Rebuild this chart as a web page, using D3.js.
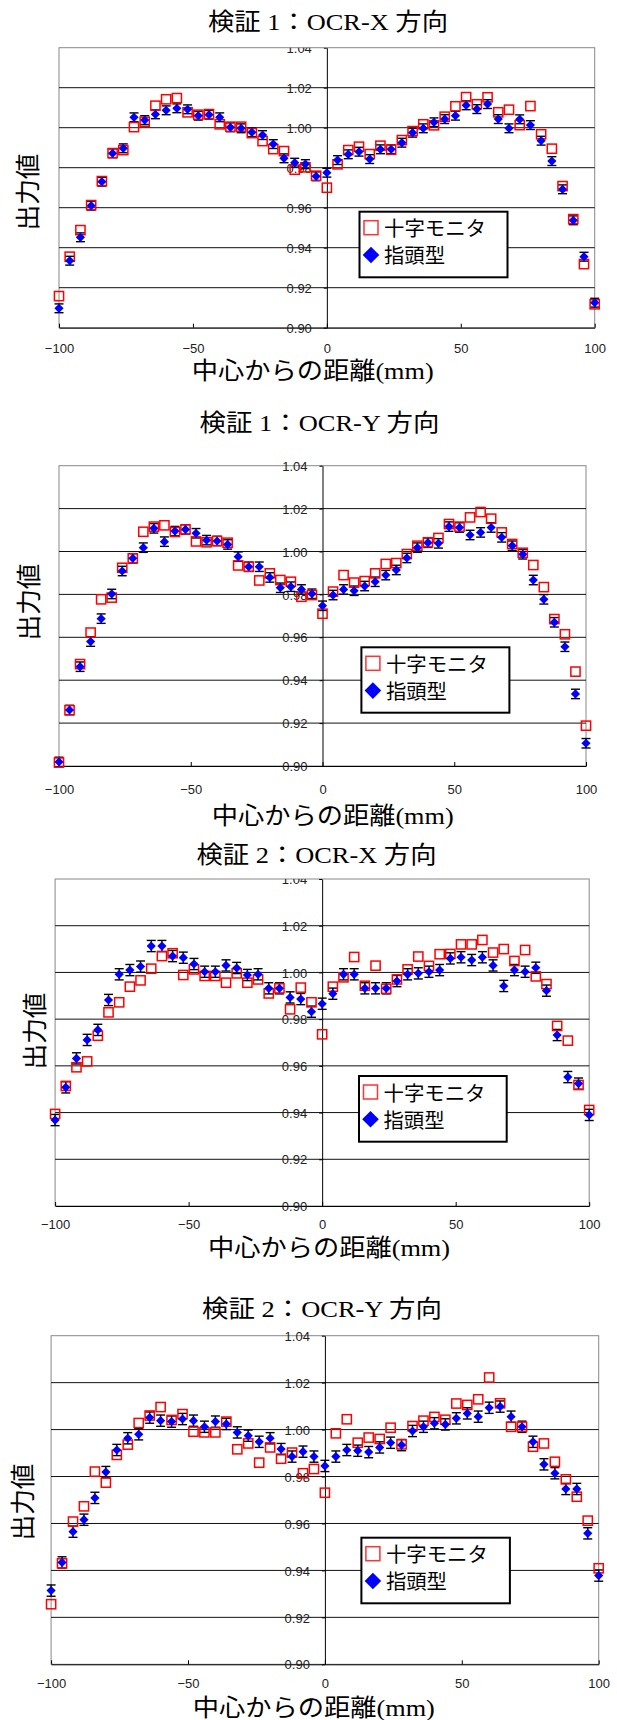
<!DOCTYPE html>
<html>
<head>
<meta charset="utf-8">
<script src="https://cdn.jsdelivr.net/npm/d3@7"></script>
<style>
  html, body { margin: 0; padding: 0; background: #fff; }
  svg { display: block; }
  .serif { font-family: "Liberation Serif", "Noto Sans CJK JP", serif; fill: #000; }
  .gothic { font-family: "Noto Sans CJK JP", "Liberation Sans", sans-serif; fill: #000; }
  .tick text { font-family: "Liberation Sans", Arial, sans-serif; font-size: 13px; fill: #222; }
</style>
</head>
<body>
<svg id="chart" width="617" height="1720"></svg>
<script>
// distance from centre (mm)
const distances = [-100, -96, -92, -88, -84, -80, -76, -72, -68, -64, -60, -56, -52, -48, -44, -40, -36, -32, -28, -24, -20, -16, -12, -8, -4,
  0, 4, 8, 12, 16, 20, 24, 28, 32, 36, 40, 44, 48, 52, 56, 60, 64, 68, 72, 76, 80, 84, 88, 92, 96, 100];

const titles = ["検証 1：OCR-X 方向", "検証 1：OCR-Y 方向", "検証 2：OCR-X 方向", "検証 2：OCR-Y 方向"];
const seriesNames = ["十字モニタ", "指頭型"];
const xLabel = "中心からの距離(mm)";
const yLabel = "出力値";
const xTicks = [-100, -50, 0, 50, 100];
const yTicks = [0.90, 0.92, 0.94, 0.96, 0.98, 1.00, 1.02, 1.04];

// 検証1 OCR-X
const ocrX1Cross = [0.9158, 0.9355, 0.9488, 0.9613, 0.9733, 0.9873, 0.9888, 1.0003, 1.0030, 1.0110, 1.0142, 1.0148, 1.0077, 1.0065, 1.0068, 1.0017, 1.0005, 1.0005, 0.9973, 0.9933, 0.9893, 0.9883, 0.9790, 0.9802, 0.9760,
  0.9700, 0.9817, 0.9888, 0.9905, 0.9868, 0.9910, 0.9890, 0.9938, 0.9983, 1.0017, 1.0012, 1.0055, 1.0107, 1.0153, 1.0117, 1.0152, 1.0077, 1.0090, 1.0013, 1.0108, 0.9967, 0.9895, 0.9708, 0.9543, 0.9318, 0.9117];
const ocrX1Finger = [0.9097, 0.9335, 0.9452, 0.9610, 0.9730, 0.9872, 0.9897, 1.0052, 1.0038, 1.0067, 1.0087, 1.0097, 1.0092, 1.0060, 1.0065, 1.0052, 1.0002, 0.9997, 0.9977, 0.9963, 0.9918, 0.9847, 0.9825, 0.9818, 0.9757,
  0.9775, 0.9838, 0.9867, 0.9880, 0.9843, 0.9892, 0.9892, 0.9925, 0.9975, 0.9997, 1.0027, 1.0043, 1.0060, 1.0112, 1.0093, 1.0118, 1.0043, 0.9997, 1.0042, 1.0013, 0.9935, 0.9833, 0.9692, 0.9537, 0.9355, 0.9125];

// 検証1 OCR-Y
const ocrY1Cross = [0.9016, 0.9260, 0.9475, 0.9622, 0.9777, 0.9785, 0.9924, 0.9968, 1.0092, 1.0116, 1.0122, 1.0091, 1.0103, 1.0047, 1.0043, 1.0049, 1.0041, 0.9935, 0.9929, 0.9865, 0.9898, 0.9867, 0.9859, 0.9789, 0.9797,
  0.9710, 0.9813, 0.9890, 0.9855, 0.9862, 0.9898, 0.9942, 0.9946, 0.9988, 1.0027, 1.0043, 1.0063, 1.0128, 1.0116, 1.0159, 1.0184, 1.0153, 1.0089, 1.0035, 0.9994, 0.9937, 0.9834, 0.9685, 0.9614, 0.9440, 0.9188];
const ocrY1Finger = [0.9019, 0.9261, 0.9463, 0.9580, 0.9687, 0.9802, 0.9909, 0.9968, 1.0018, 1.0108, 1.0046, 1.0095, 1.0103, 1.0085, 1.0053, 1.0049, 1.0033, 0.9976, 0.9929, 0.9929, 0.9879, 0.9831, 0.9836, 0.9823, 0.9803,
  0.9747, 0.9797, 0.9823, 0.9817, 0.9839, 0.9859, 0.9890, 0.9914, 0.9970, 1.0018, 1.0041, 1.0038, 1.0116, 1.0112, 1.0077, 1.0089, 1.0112, 1.0066, 1.0027, 0.9987, 0.9867, 0.9777, 0.9670, 0.9556, 0.9336, 0.9106];

// 検証2 OCR-X
const ocrX2Cross = [0.9394, 0.9514, 0.9594, 0.9619, 0.9729, 0.9829, 0.9872, 0.9939, 0.9966, 1.0016, 1.0070, 1.0082, 0.9989, 1.0013, 0.9985, 0.9985, 0.9956, 0.9996, 0.9956, 0.9970, 0.9910, 0.9932, 0.9842, 0.9935, 0.9872,
  0.9735, 0.9939, 0.9979, 1.0066, 0.9943, 1.0029, 0.9930, 0.9970, 1.0013, 1.0068, 1.0028, 1.0078, 1.0079, 1.0120, 1.0120, 1.0139, 1.0085, 1.0100, 1.0049, 1.0096, 0.9983, 0.9950, 0.9771, 0.9708, 0.9518, 0.9411];
const ocrX2Finger = [0.9368, 0.9508, 0.9632, 0.9711, 0.9754, 0.9882, 0.9992, 1.0010, 1.0025, 1.0113, 1.0113, 1.0070, 1.0063, 1.0036, 1.0003, 1.0003, 1.0030, 1.0019, 0.9989, 0.9992, 0.9932, 0.9932, 0.9893, 0.9886, 0.9832,
  0.9866, 0.9909, 0.9992, 0.9992, 0.9932, 0.9932, 0.9932, 0.9963, 0.9992, 0.9996, 1.0003, 1.0010, 1.0060, 1.0065, 1.0053, 1.0065, 1.0030, 0.9942, 1.0010, 1.0003, 1.0020, 0.9922, 0.9732, 0.9552, 0.9524, 0.9390];

// 検証2 OCR-Y
const ocrY2Cross = [0.9256, 0.9430, 0.9608, 0.9673, 0.9821, 0.9774, 0.9892, 0.9936, 1.0028, 1.0060, 1.0096, 1.0041, 1.0066, 0.9991, 0.9988, 0.9988, 1.0034, 0.9916, 0.9941, 0.9859, 0.9924, 0.9876, 0.9902, 0.9814, 0.9832,
  0.9731, 0.9984, 1.0044, 0.9944, 0.9966, 0.9960, 1.0008, 0.9937, 1.0015, 1.0038, 1.0054, 1.0042, 1.0111, 1.0105, 1.0129, 1.0222, 1.0112, 1.0012, 1.0012, 0.9927, 0.9941, 0.9863, 0.9788, 0.9714, 0.9612, 0.9409];
const ocrY2Finger = [0.9314, 0.9434, 0.9565, 0.9616, 0.9709, 0.9819, 0.9913, 0.9963, 0.9980, 1.0051, 1.0038, 1.0034, 1.0045, 1.0038, 1.0012, 1.0034, 1.0024, 0.9988, 0.9974, 0.9948, 0.9963, 0.9917, 0.9885, 0.9906, 0.9885,
  0.9845, 0.9885, 0.9913, 0.9910, 0.9904, 0.9924, 0.9944, 0.9934, 0.9994, 1.0012, 1.0027, 1.0022, 1.0048, 1.0069, 1.0055, 1.0093, 1.0098, 1.0055, 1.0012, 0.9948, 0.9852, 0.9814, 0.9747, 0.9747, 0.9558, 0.9378];

// half length of the 指頭型 error bars
const fingerError = [0.0022, 0.0022, 0.0024, 0.0024];

const panels = [
  { title: titles[0], cross: ocrX1Cross, finger: ocrX1Finger, err: fingerError[0] },
  { title: titles[1], cross: ocrY1Cross, finger: ocrY1Finger, err: fingerError[1] },
  { title: titles[2], cross: ocrX2Cross, finger: ocrX2Finger, err: fingerError[2] },
  { title: titles[3], cross: ocrY2Cross, finger: ocrY2Finger, err: fingerError[3] }
];

// page layout of each panel
const layout = [
  { left: 59, right: 594.7, top: 47.7, bottom: 327.7, clipTop: 47.7, titleX: 328, titleY: 22, tickPad: 16,
    xLabX: 312.7, xLabY: 371, yLabX: 28, yLabY: 192, legend: [359.5, 211.7, 148, 65.6] },
  { left: 59, right: 586, top: 465.7, bottom: 766, clipTop: 440, titleX: 319.5, titleY: 422.5, tickPad: 19,
    xLabX: 332.7, xLabY: 816, yLabX: 29, yLabY: 602, legend: [361.4, 647.3, 148, 65.4] },
  { left: 55.1, right: 589.2, top: 879, bottom: 1206, clipTop: 879, titleX: 316.5, titleY: 855, tickPad: 14,
    xLabX: 329, xLabY: 1247.5, yLabX: 35, yLabY: 1031, legend: [359, 1076, 147.7, 65.7] },
  { left: 51.1, right: 598.7, top: 1335.7, bottom: 1664.3, clipTop: 1310, titleX: 322, titleY: 1308.5, tickPad: 14,
    xLabX: 313.8, xLabY: 1707.5, yLabX: 23, yLabY: 1502, legend: [361.4, 1537.7, 148.5, 65.6] }
];

const svg = d3.select("#chart");
const defs = svg.append("defs");

function diamond(cx, cy, r) {
  return `M${cx},${cy - r}L${cx + r},${cy}L${cx},${cy + r}L${cx - r},${cy}Z`;
}

panels.forEach((p, i) => {
  const L = layout[i];
  const x = d3.scaleLinear().domain([-100, 100]).range([L.left, L.right]);
  const y = d3.scaleLinear().domain([0.90, 1.04]).range([L.bottom, L.top]);
  const g = svg.append("g");

  // clip for the value labels (local coords of the axis group)
  defs.append("clipPath").attr("id", "clip" + i)
    .append("rect")
    .attr("x", -300).attr("y", L.clipTop)
    .attr("width", 600).attr("height", L.bottom + 40 - L.clipTop);

  // title
  g.append("text").attr("class", "serif")
    .attr("x", L.titleX).attr("y", L.titleY)
    .attr("text-anchor", "middle").attr("dominant-baseline", "central")
    .attr("font-size", 24).attr("textLength", 240).attr("lengthAdjust", "spacingAndGlyphs")
    .text(p.title);

  // plot frame
  g.append("rect")
    .attr("x", L.left).attr("y", L.top)
    .attr("width", L.right - L.left).attr("height", L.bottom - L.top)
    .attr("fill", "none").attr("stroke", "#888").attr("stroke-width", 1);

  // horizontal gridlines
  g.selectAll(".grid").data(yTicks.slice(1, -1)).enter()
    .append("line")
    .attr("x1", L.left).attr("x2", L.right)
    .attr("y1", d => y(d)).attr("y2", d => y(d))
    .attr("stroke", "#111").attr("stroke-width", 1);

  // bottom axis
  const xAxis = g.append("g")
    .attr("transform", `translate(0,${L.bottom})`)
    .call(d3.axisBottom(x).tickValues(xTicks).tickSizeInner(-4).tickSizeOuter(0).tickPadding(L.tickPad));
  xAxis.select(".domain").attr("stroke", "#000");
  xAxis.selectAll(".tick line").attr("stroke", "#000");

  // value axis through x = 0
  const yAxis = g.append("g")
    .attr("transform", `translate(${x(0)},0)`)
    .attr("clip-path", `url(#clip${i})`)
    .call(d3.axisLeft(y).tickValues(yTicks).tickFormat(d3.format(".2f")).tickSizeInner(3).tickSizeOuter(0).tickPadding(12));
  yAxis.select(".domain").attr("stroke", "#000");
  yAxis.selectAll(".tick line").attr("stroke", "#000");
  yAxis.selectAll(".tick text").attr("font-size", 12.5).attr("dy", "0.36em");

  // axis titles
  g.append("text").attr("class", "serif")
    .attr("x", L.xLabX).attr("y", L.xLabY)
    .attr("text-anchor", "middle").attr("dominant-baseline", "central")
    .attr("font-size", 24).attr("textLength", 242).attr("lengthAdjust", "spacingAndGlyphs")
    .text(xLabel);

  g.append("text").attr("class", "serif")
    .attr("transform", `translate(${L.yLabX},${L.yLabY}) rotate(-90)`)
    .attr("text-anchor", "middle").attr("dominant-baseline", "central")
    .attr("font-size", 25).attr("textLength", 77).attr("lengthAdjust", "spacingAndGlyphs")
    .text(yLabel);

  // error bars of 指頭型
  const eb = g.append("g").attr("stroke", "#000").attr("stroke-width", 1.4);
  p.finger.forEach((v, k) => {
    const cx = x(distances[k]);
    const y0 = y(v - p.err), y1 = y(v + p.err);
    eb.append("line").attr("x1", cx).attr("x2", cx).attr("y1", y0).attr("y2", y1);
    eb.append("line").attr("x1", cx - 4.5).attr("x2", cx + 4.5).attr("y1", y0).attr("y2", y0);
    eb.append("line").attr("x1", cx - 4.5).attr("x2", cx + 4.5).attr("y1", y1).attr("y2", y1);
  });

  // 十字モニタ squares
  g.selectAll(".sq").data(p.cross).enter()
    .append("rect")
    .attr("x", (v, k) => x(distances[k]) - 4.6)
    .attr("y", v => y(v) - 4.6)
    .attr("width", 9.2).attr("height", 9.2)
    .attr("fill", "none").attr("stroke", "#ff0000").attr("stroke-width", 1.5);

  // 指頭型 diamonds
  g.selectAll(".dm").data(p.finger).enter()
    .append("path")
    .attr("d", (v, k) => diamond(x(distances[k]), y(v), 4.6))
    .attr("fill", "#0000ff");

  // legend
  const [lx, ly, lw, lh] = L.legend;
  const lg = g.append("g").attr("transform", `translate(${lx},${ly})`);
  lg.append("rect").attr("width", lw).attr("height", lh)
    .attr("fill", "#fff").attr("stroke", "#000").attr("stroke-width", 2);
  lg.append("rect").attr("x", 4.5).attr("y", 9).attr("width", 14).attr("height", 14)
    .attr("fill", "none").attr("stroke", "#ff3333").attr("stroke-width", 1.5);
  lg.append("path").attr("d", diamond(11.5, 43.3, 8.3)).attr("fill", "#0000ff");
  lg.append("text").attr("class", "gothic")
    .attr("x", 24.5).attr("y", 16).attr("dominant-baseline", "central")
    .attr("font-size", 20).attr("textLength", 102).attr("lengthAdjust", "spacingAndGlyphs")
    .attr("fill", "#222")
    .text(seriesNames[0]);
  lg.append("text").attr("class", "gothic")
    .attr("x", 24.5).attr("y", 43.3).attr("dominant-baseline", "central")
    .attr("font-size", 20).attr("textLength", 61).attr("lengthAdjust", "spacingAndGlyphs")
    .attr("fill", "#222")
    .text(seriesNames[1]);
});
</script>
</body>
</html>
